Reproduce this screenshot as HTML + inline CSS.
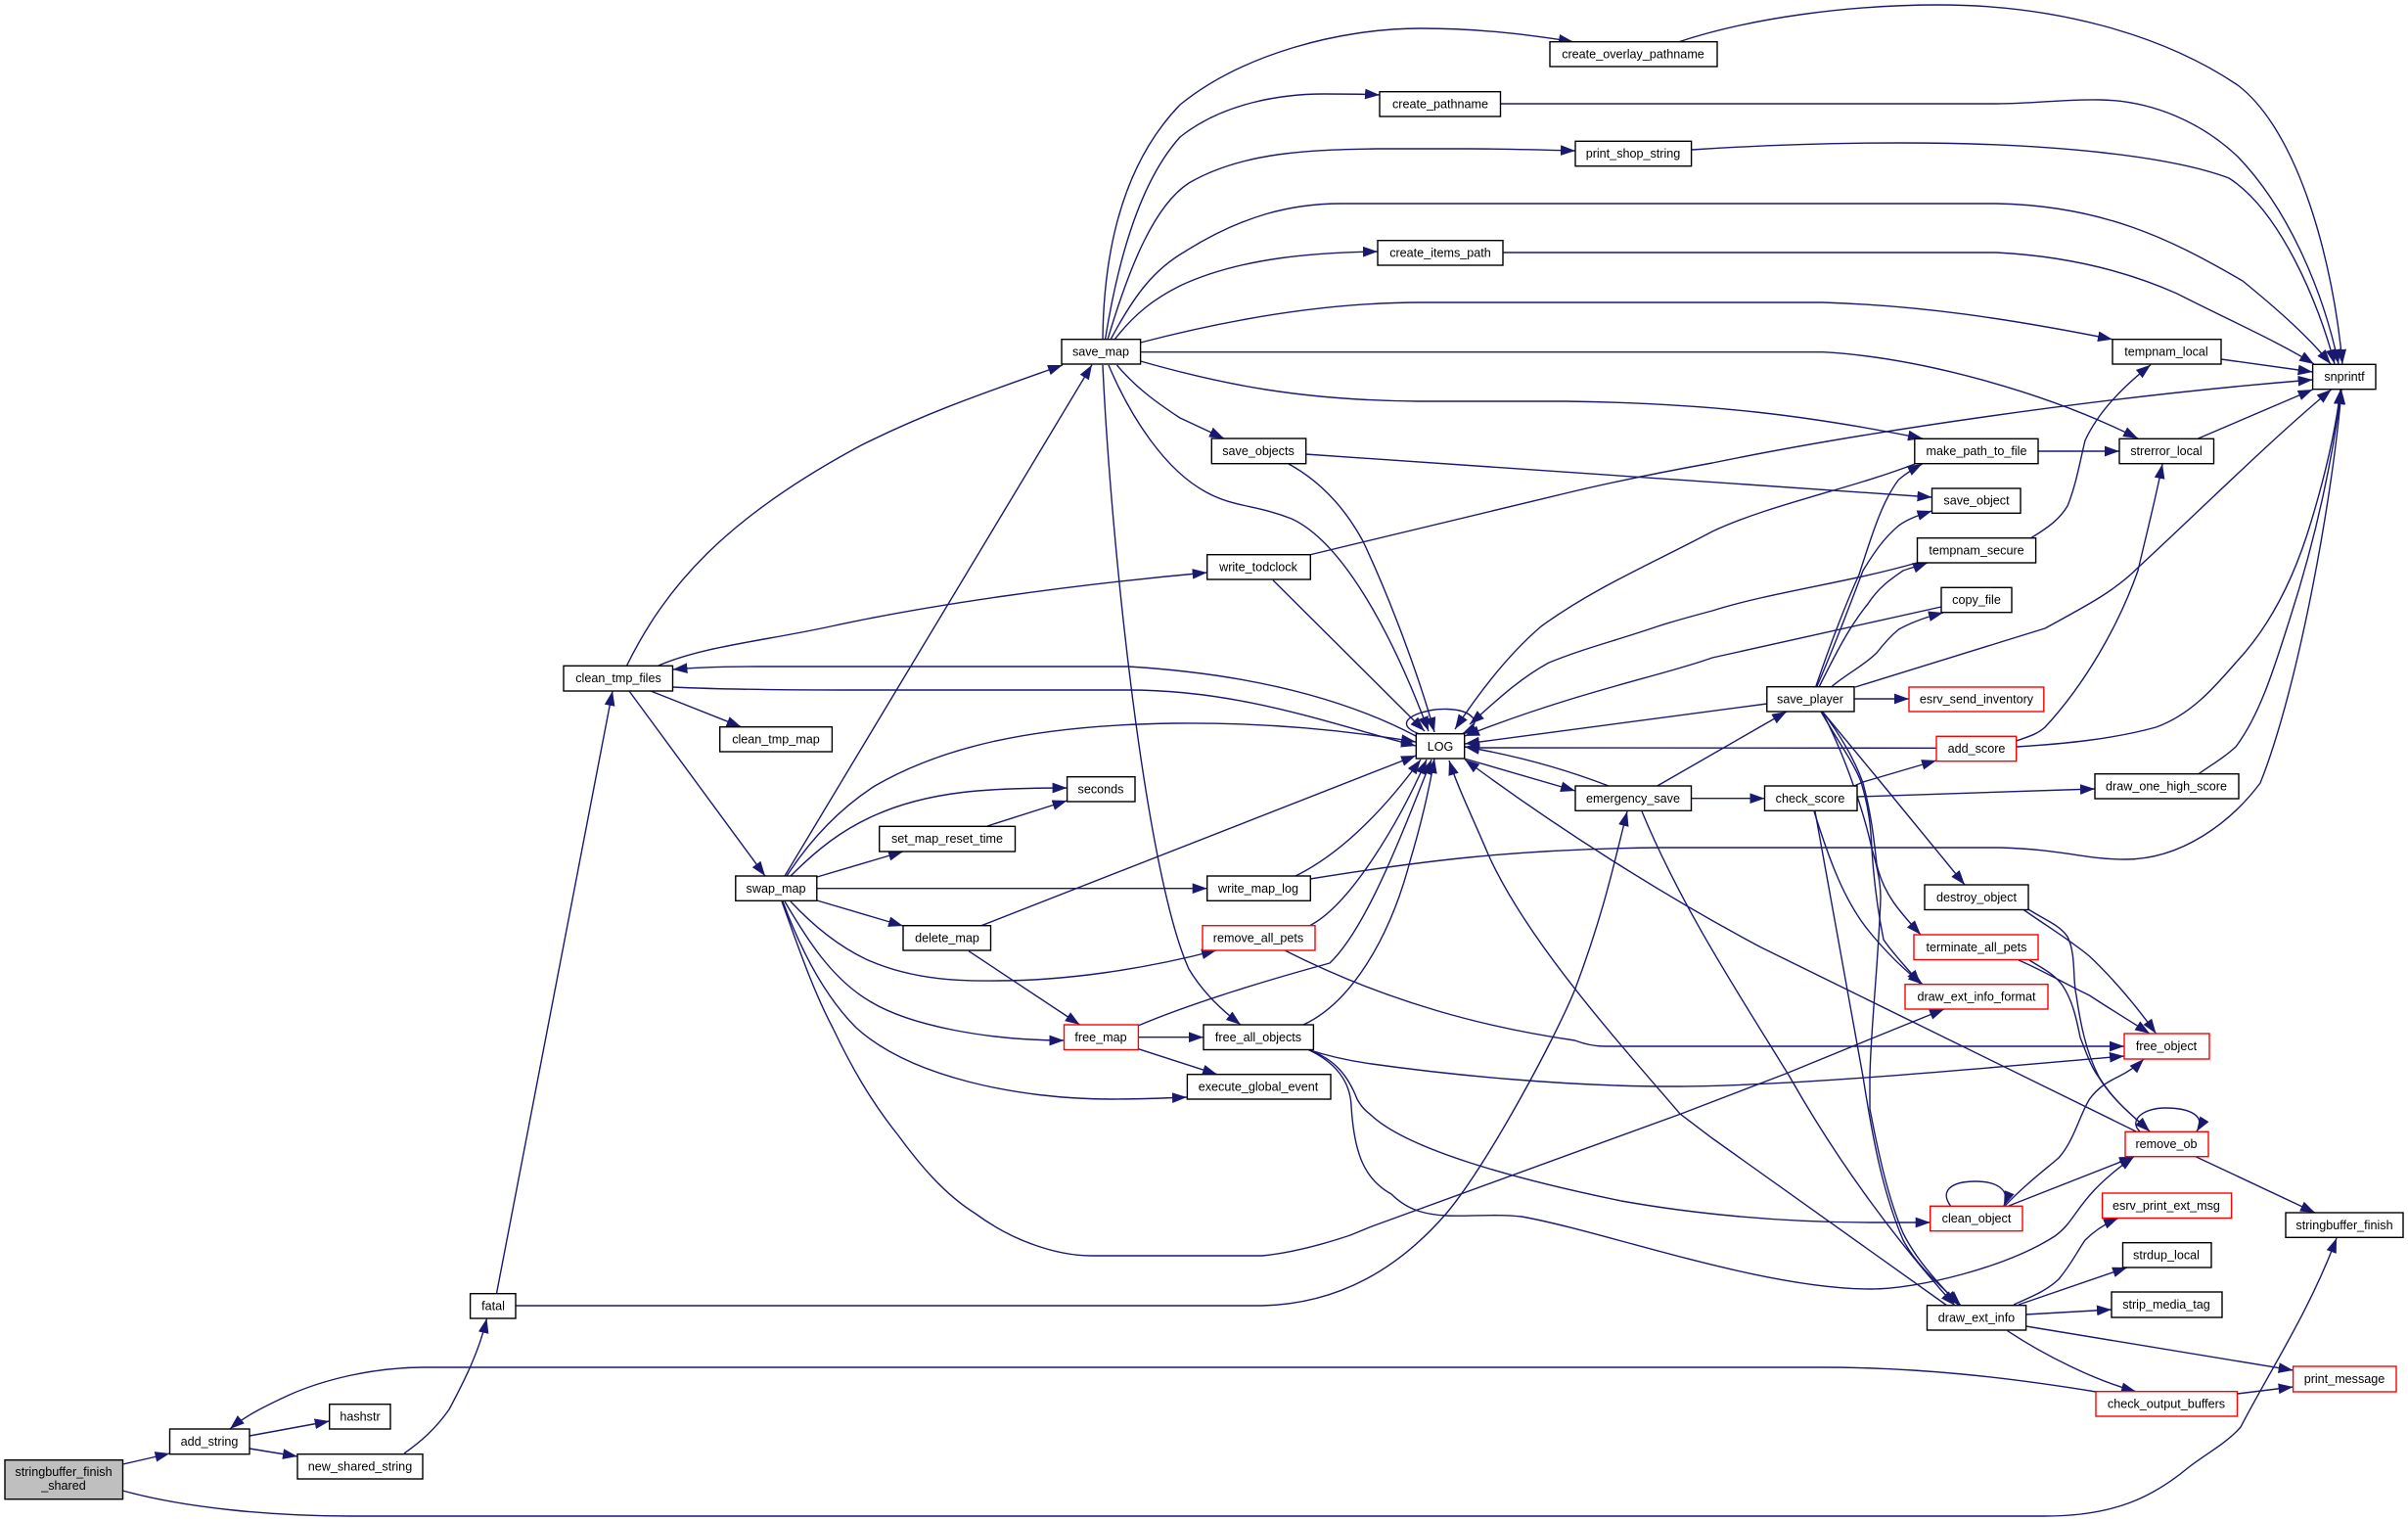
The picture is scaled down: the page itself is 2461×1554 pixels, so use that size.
<!DOCTYPE html>
<html><head><meta charset="utf-8">
<style>
html,body{margin:0;padding:0;background:#fff}
svg{display:block}
.e path{fill:none;stroke:#191970;stroke-width:1.4;marker-end:url(#a)}
.n rect{fill:#fff;stroke:#000;stroke-width:1.4}
.n rect.r{stroke:#f00}
.n rect.g{fill:#bfbfbf}
.n text{font-family:"Liberation Sans",Arial,sans-serif;font-size:12.6px;text-anchor:middle;fill:#000}
</style></head><body>
<svg width="2461" height="1554" viewBox="0 0 2461 1554" xmlns="http://www.w3.org/2000/svg">
<defs><marker id="a" markerUnits="userSpaceOnUse" markerWidth="15" markerHeight="11" viewBox="0 0 14 10" refX="14" refY="5" orient="auto"><path d="M0,0L14,5L0,10z" fill="#191970"/></marker></defs>
<rect width="2461" height="1554" fill="#fff"/>
<g class="e">
<path d="M125.5,1496L173.5,1485"/>
<path d="M125.5,1523C190,1541 280,1549 357,1549L2090,1549C2160,1549 2200,1530 2237,1499C2255,1485 2275,1475 2290,1458C2320,1400 2360,1340 2388,1265"/>
<path d="M255,1467L336.7,1452"/>
<path d="M255,1480L304,1488"/>
<path d="M413,1485C430,1473 445,1460 459,1440C475,1410 490,1380 497.5,1347"/>
<path d="M507.6,1321L626,706"/>
<path d="M527,1334L1290,1334C1370,1332 1430,1295 1478,1240C1520,1190 1590,1060 1610,1010C1640,930 1650,880 1663,829"/>
<path d="M2142,1422C2050,1407 1960,1397 1863,1397L434,1397C380,1397 330,1410 296,1425C270,1437 250,1447 235,1460"/>
<path d="M640.6,680C680,600 740,530 880,455C950,420 1010,400 1086,373"/>
<path d="M673,680C720,660 780,655 849,640C950,618 1090,598 1233.7,585"/>
<path d="M1447,752C1390,722 1300,690 1153,681L773,681C740,681 710,682 687.5,684"/>
<path d="M687.5,702C730,704 800,705 862,705L1153,705C1270,705 1360,740 1447,762"/>
<path d="M665,706L757.6,742.7"/>
<path d="M643,706L782,895"/>
<path d="M802,895L1116,372.7"/>
<path d="M804,895C830,855 860,825 894,803C960,765 1050,741 1200,739C1290,738 1370,745 1447,758"/>
<path d="M808,895C835,868 860,848 894,833C950,808 1010,805 1090.6,805"/>
<path d="M835,896L923,870"/>
<path d="M1009,844L1090.6,818"/>
<path d="M835,907.7L1233.7,907.7"/>
<path d="M835,920L923,946"/>
<path d="M1003,945.7L1447,772"/>
<path d="M990,971.7L1103.6,1047"/>
<path d="M808,921C835,950 860,968 885,980C940,1005 1000,1002 1019,1002C1090,1002 1170,990 1243,971"/>
<path d="M802,921C825,960 850,1000 889,1023C930,1048 1010,1063 1087.5,1063"/>
<path d="M800,921C820,975 845,1020 875,1050C930,1100 1040,1123 1136,1123C1165,1123 1190,1122 1213,1121"/>
<path d="M799,921C815,965 830,1010 851,1050C870,1090 890,1125 918,1160C940,1190 965,1220 997,1240C1035,1268 1080,1283 1116,1283L1290,1283C1320,1280 1350,1272 1380,1262L1402,1253L1718,1138L1825,1097L1940,1050L1987,1031"/>
<path d="M1163.4,1059.7L1230,1059.7"/>
<path d="M1163.4,1071.7L1244,1097.7"/>
<path d="M1163,1048C1220,1024 1300,1000 1359,984C1395,950 1430,860 1463,776"/>
<path d="M1332,1047C1380,1025 1420,960 1441,880C1450,850 1460,810 1466,775"/>
<path d="M1338,946C1380,925 1430,840 1458,776"/>
<path d="M1324,895C1375,870 1420,820 1452,776"/>
<path d="M1339,898C1450,880 1550,867 1700,866L2045,866C2110,868 2130,878 2172,878C2230,878 2280,840 2310,800C2350,700 2385,500 2393,398"/>
<path d="M1644,803C1600,786 1550,772 1497,763"/>
<path d="M1496.6,775L1610,808"/>
<path d="M1728.5,815.7L1803.5,815.7"/>
<path d="M1693.7,803L1826,727"/>
<path d="M1678,829C1720,930 1780,1020 1829,1100C1880,1190 1940,1270 1998,1334"/>
<path d="M1806,719L1497,760"/>
<path d="M1979,764.3L1510,764L1497,763"/>
<path d="M1957,474C1890,500 1810,515 1750,543C1690,575 1630,600 1575,640C1540,670 1510,710 1487,745"/>
<path d="M1959,575C1890,595 1810,605 1750,624C1720,632 1700,638 1694,640C1650,655 1620,662 1583,677C1550,695 1525,720 1502,740"/>
<path d="M1984,620L1750,672C1700,690 1620,705 1510,747L1497,752"/>
<path d="M1317,474C1350,492 1375,520 1393,553C1420,610 1450,690 1466,748"/>
<path d="M1133,373C1155,425 1190,480 1233,503C1260,518 1285,516 1320,530C1370,553 1420,640 1460,747"/>
<path d="M1301,592.7L1456,747"/>
<path d="M1127,373C1135,550 1170,890 1215,990C1230,1015 1250,1033 1268,1047"/>
<path d="M1141.5,373C1160,395 1180,410 1206,427L1251,448"/>
<path d="M1165.6,369C1250,393 1330,409 1450,410L1600,410C1750,412 1850,425 1965,448"/>
<path d="M1165.6,359.7L1863,359.7C1960,365 2090,400 2185,448"/>
<path d="M1165.6,350C1250,328 1350,309 1452,309L1863,309C1960,312 2050,325 2159,346.7"/>
<path d="M1139,347C1160,320 1180,305 1206,292C1270,262 1350,258 1408,257"/>
<path d="M1135,347C1160,300 1180,275 1211,257C1270,220 1320,208 1371,208L2040,208C2150,210 2220,245 2292,287C2330,318 2360,345 2382,372"/>
<path d="M1132,347C1155,270 1180,210 1215,187C1270,155 1340,153 1407,152L1500,152C1540,152 1575,153 1610,154"/>
<path d="M1129.5,347C1145,250 1170,180 1206,140C1250,105 1310,96 1353,96C1375,96 1395,96 1410,97"/>
<path d="M1127,347C1128,250 1150,165 1206,107C1270,55 1370,29 1452,29C1510,29 1560,35 1608,42.7"/>
<path d="M1715,43C1790,18 1890,5 1982,5C2100,5 2210,35 2287,87C2350,135 2385,270 2394,372"/>
<path d="M1533.5,106L2040,106C2080,106 2110,101 2147,102C2200,103 2250,125 2287,160C2340,215 2375,300 2390,372"/>
<path d="M1729,153C1790,149 1870,146 1943,146C2100,146 2220,160 2278,182C2330,215 2370,310 2386,372"/>
<path d="M1536,258L2040,258C2120,262 2180,280 2225,300C2280,328 2330,350 2365,372"/>
<path d="M1338,567L1600,504C1650,492 1700,482 1750,473C1900,442 2150,405 2363.6,388"/>
<path d="M2083,461L2166,461"/>
<path d="M2270,367L2363.6,380"/>
<path d="M2246.6,448L2363.6,398"/>
<path d="M1334,464L1974.5,508"/>
<path d="M1855.7,701.7C1870,660 1885,620 1900,587C1915,540 1925,510 1940.5,490C1950,482 1957,478 1964.5,474"/>
<path d="M1856.6,702C1875,660 1890,620 1904,583C1915,565 1925,550 1940.5,537C1950,530 1962,526 1974.5,522"/>
<path d="M1859,702C1875,670 1890,640 1909,617C1920,600 1932,592 1945,583C1953,580 1962,578 1970,575"/>
<path d="M1871.5,702C1885,690 1905,680 1918,667C1925,658 1932,650 1940.5,643C1955,635 1970,630 1986,626"/>
<path d="M1896,702L2090,642C2130,620 2160,605 2185,580C2250,520 2320,450 2382.6,398"/>
<path d="M1895,714L1951,714"/>
<path d="M2075.6,549.7C2095,538 2105,530 2113,517C2122,495 2126,470 2131,450C2145,420 2170,395 2198,372.7"/>
<path d="M2060.7,757C2075,752 2082,750 2090,743C2130,700 2165,640 2185,583C2195,540 2203,510 2210,474"/>
<path d="M2060.7,763C2110,760 2160,755 2203.5,743C2240,730 2265,700 2285,677C2320,640 2345,590 2362,533C2375,490 2387,440 2392,398"/>
<path d="M1895,803L1904,799L1979,777"/>
<path d="M1898,814L2141,806"/>
<path d="M2246.6,791C2262,780 2272,775 2285,763C2310,730 2325,680 2340,633C2370,540 2385,460 2393,398"/>
<path d="M1854,829C1870,880 1885,920 1909,950C1925,970 1945,990 1965,1005.7"/>
<path d="M1855,829L1904,1100C1915,1170 1925,1220 1945,1267C1960,1295 1985,1315 2004,1333.7"/>
<path d="M1861,727C1880,760 1895,780 1902,799C1910,825 1912,845 1913,867C1915,900 1920,935 1925,960C1935,975 1950,990 1963,1005.7"/>
<path d="M1862.5,727C1880,750 1895,775 1904,800C1912,830 1915,855 1918,883C1925,915 1945,935 1963,955"/>
<path d="M1862.5,727L1922,799L2008,904"/>
<path d="M1862,727C1885,770 1905,830 1913,867C1920,890 1922,905 1922,917C1920,980 1912,1050 1911,1100C1911,1115 1911,1125 1911,1133C1920,1180 1930,1225 1945,1260C1960,1290 1985,1315 2002,1333.7"/>
<path d="M2067.5,929C2090,945 2115,960 2135.5,977C2160,1000 2185,1030 2203.5,1056"/>
<path d="M2073,929C2090,940 2105,945 2113,957C2122,975 2118,1000 2122,1017C2126,1045 2132,1075 2145,1100C2160,1125 2180,1140 2197,1156"/>
<path d="M2063,981C2085,990 2110,1005 2135.5,1017C2155,1030 2180,1045 2197,1056"/>
<path d="M2074,981C2085,988 2100,995 2108,1007C2118,1022 2122,1040 2126,1060C2132,1075 2137,1090 2144.5,1100C2160,1125 2180,1140 2197,1156"/>
<path d="M2049,1232C2070,1210 2090,1195 2104,1183C2120,1165 2125,1140 2135.5,1123C2145,1110 2155,1105 2165,1100C2175,1095 2183,1090 2191,1082"/>
<path d="M1993.5,1232C1983,1218 1992,1207 2019,1207C2040,1207 2055,1215 2048,1232"/>
<path d="M2053,1232L2181,1181.7"/>
<path d="M2187,1156C2175,1145 2190,1132 2213,1132C2238,1132 2255,1140 2245,1156"/>
<path d="M2244,1181.7L2366,1239"/>
<path d="M2183,1156L1800,968C1700,915 1590,845 1497,776"/>
<path d="M1336,1072C1360,1080 1380,1084 1402,1087C1480,1098 1600,1110 1708,1110C1830,1110 2020,1092 2171,1079"/>
<path d="M1336,1072C1365,1082 1378,1100 1387,1123C1392,1132 1396,1135 1402,1140C1440,1175 1550,1205 1657,1227C1730,1240 1820,1249 1912,1249L1972.7,1249"/>
<path d="M1336,1072C1365,1085 1380,1105 1381,1130C1384,1180 1395,1205 1422,1220C1440,1238 1460,1241 1478,1242C1500,1243 1530,1240 1555,1243C1640,1258 1800,1317 1912,1317C1960,1317 2050,1295 2100,1263C2125,1245 2120,1225 2181,1181.7"/>
<path d="M1313,971C1420,1025 1520,1050 1609.5,1063C1620,1067 1630,1069 1640,1069L2171,1069"/>
<path d="M1990,1334L1750,1163L1717,1138C1650,1060 1560,960 1521,873C1505,835 1490,805 1481,777"/>
<path d="M2058,1333C2075,1325 2090,1320 2104,1307C2118,1290 2122,1280 2131,1267C2140,1258 2152,1250 2165,1244.5"/>
<path d="M2063,1333L2174,1295"/>
<path d="M2070.6,1343L2158,1338"/>
<path d="M2070.6,1355L2343.6,1400"/>
<path d="M2051.6,1359.7C2090,1385 2140,1410 2183,1421.7"/>
<path d="M2286.5,1424L2343.6,1417"/>
<path d="M1451,750C1437,745 1432,738 1445,731C1465,722 1495,722 1505,733C1510,738 1505,745 1494,750"/>
</g>
<g class="n">
<rect class="g" x="5" y="1491.7" width="120.5" height="40"/><text x="65" y="1508">stringbuffer_finish</text><text x="65" y="1522">_shared</text>
<rect x="173.5" y="1460" width="81.5" height="25.7"/><text x="214" y="1477">add_string</text>
<rect x="336.7" y="1434.7" width="62.3" height="25.3"/><text x="368" y="1451.5">hashstr</text>
<rect x="304" y="1485.7" width="128" height="25.3"/><text x="368" y="1502.5">new_shared_string</text>
<rect x="480.6" y="1321.7" width="46.4" height="25.3"/><text x="504" y="1338.5">fatal</text>
<rect x="576" y="680.3" width="111.5" height="25.7"/><text x="632" y="697">clean_tmp_files</text>
<rect x="735.7" y="742.7" width="114.7" height="25.3"/><text x="793" y="759.5">clean_tmp_map</text>
<rect x="751.8" y="895" width="83" height="25.3"/><text x="793" y="912">swap_map</text>
<rect x="1085" y="346.7" width="80.6" height="25.3"/><text x="1125" y="363.5">save_map</text>
<rect x="1584" y="42.7" width="171" height="25.3"/><text x="1669" y="59.5">create_overlay_pathname</text>
<rect x="1410" y="93.7" width="123.5" height="25.3"/><text x="1472" y="110.5">create_pathname</text>
<rect x="1610" y="144.3" width="118.6" height="25.4"/><text x="1669" y="161">print_shop_string</text>
<rect x="1408" y="245.7" width="128" height="25.3"/><text x="1472" y="262.5">create_items_path</text>
<rect x="1238.3" y="448" width="96.4" height="25.7"/><text x="1286" y="465">save_objects</text>
<rect x="1233.7" y="566.7" width="105.6" height="25.3"/><text x="1286" y="583.5">write_todclock</text>
<rect x="1090.6" y="793.7" width="69.4" height="25.3"/><text x="1125" y="810.5">seconds</text>
<rect x="898.7" y="844.3" width="138.8" height="25.7"/><text x="968" y="861">set_map_reset_time</text>
<rect x="923" y="945.7" width="89.5" height="25.3"/><text x="968" y="962.5">delete_map</text>
<rect class="r" x="1087.5" y="1047" width="75.9" height="25.5"/><text x="1125" y="1064">free_map</text>
<rect x="1233.7" y="895" width="105.6" height="25.3"/><text x="1286" y="912">write_map_log</text>
<rect class="r" x="1229" y="945.7" width="115" height="25.3"/><text x="1286" y="962.5">remove_all_pets</text>
<rect x="1230" y="1047" width="112.4" height="25.5"/><text x="1286" y="1064">free_all_objects</text>
<rect x="1213.4" y="1097.7" width="146.6" height="25.3"/><text x="1286" y="1114.5">execute_global_event</text>
<rect x="1447.3" y="749.7" width="49.4" height="25.3"/><text x="1472" y="767">LOG</text>
<rect x="1610" y="803" width="118.5" height="25.3"/><text x="1669" y="820">emergency_save</text>
<rect x="1805.8" y="701.7" width="89.2" height="25.3"/><text x="1850" y="718.5">save_player</text>
<rect x="1803.5" y="803" width="94.5" height="25.3"/><text x="1850" y="820">check_score</text>
<rect x="1956.8" y="448.3" width="126.2" height="25.4"/><text x="2020" y="465">make_path_to_file</text>
<rect x="1974.5" y="499" width="90.5" height="25.3"/><text x="2020" y="515.5">save_object</text>
<rect x="1959.5" y="549.7" width="121.1" height="25.3"/><text x="2020" y="566.5">tempnam_secure</text>
<rect x="1984" y="600.3" width="72" height="25.4"/><text x="2020" y="617">copy_file</text>
<rect class="r" x="1951" y="702" width="137.8" height="25"/><text x="2020" y="718.5">esrv_send_inventory</text>
<rect class="r" x="1979" y="752.3" width="81.7" height="25.4"/><text x="2020" y="769">add_score</text>
<rect x="1967" y="904" width="106" height="25.5"/><text x="2020" y="921">destroy_object</text>
<rect class="r" x="1956" y="955" width="127" height="25.5"/><text x="2020" y="972">terminate_all_pets</text>
<rect class="r" x="1947" y="1005.7" width="146" height="25.3"/><text x="2020" y="1022.5">draw_ext_info_format</text>
<rect class="r" x="1972.7" y="1232.3" width="94.3" height="25.4"/><text x="2020" y="1249">clean_object</text>
<rect x="1969.5" y="1333.7" width="101.1" height="25.3"/><text x="2020" y="1350.5">draw_ext_info</text>
<rect x="2159" y="346.7" width="111" height="25.3"/><text x="2214" y="363.5">tempnam_local</text>
<rect x="2166" y="448.3" width="96.5" height="25.4"/><text x="2214" y="465">strerror_local</text>
<rect x="2141" y="790.7" width="147" height="25.3"/><text x="2214" y="807.5">draw_one_high_score</text>
<rect class="r" x="2171" y="1056" width="87" height="26"/><text x="2214" y="1073">free_object</text>
<rect class="r" x="2172" y="1156.3" width="85" height="25.4"/><text x="2214" y="1173">remove_ob</text>
<rect class="r" x="2148.6" y="1219" width="132" height="25.5"/><text x="2214" y="1236">esrv_print_ext_msg</text>
<rect x="2169.5" y="1269.7" width="90.5" height="25.3"/><text x="2214" y="1286.5">strdup_local</text>
<rect x="2158" y="1320" width="113" height="26"/><text x="2214" y="1337">strip_media_tag</text>
<rect class="r" x="2142" y="1421.7" width="144.5" height="25.3"/><text x="2214" y="1438.5">check_output_buffers</text>
<rect x="2363.6" y="372.3" width="64.4" height="25.4"/><text x="2396" y="389">snprintf</text>
<rect x="2336" y="1239" width="120" height="25.3"/><text x="2396" y="1256">stringbuffer_finish</text>
<rect class="r" x="2343.6" y="1396" width="105.4" height="26"/><text x="2396" y="1413">print_message</text>
</g>
</svg>
</body></html>
